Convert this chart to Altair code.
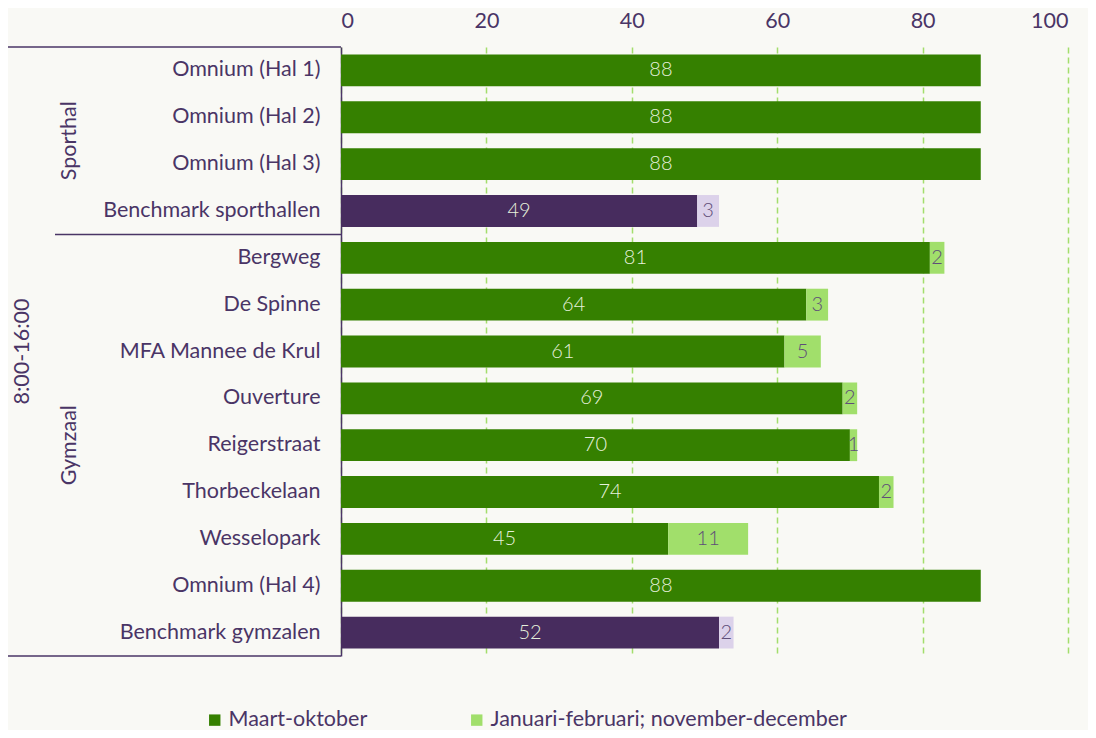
import altair as alt
import pandas as pd

names = ["Omnium (Hal 1)", "Omnium (Hal 2)", "Omnium (Hal 3)", "Benchmark sporthallen",
         "Bergweg", "De Spinne", "MFA Mannee de Krul", "Ouverture", "Reigerstraat",
         "Thorbeckelaan", "Wesselopark", "Omnium (Hal 4)", "Benchmark gymzalen"]
groups = ["Sporthal"] * 4 + ["Gymzaal"] * 9
is_benchmark = [False, False, False, True, False, False, False, False, False, False, False, False, True]
maart_oktober = [88, 88, 88, 49, 81, 64, 61, 69, 70, 74, 45, 88, 52]
winter = [None, None, None, 3, 2, 3, 5, 2, 1, 2, 11, None, 2]

S1 = "Maart-oktober"
S2 = "Januari-februari; november-december"
B1 = "Benchmark maart-oktober"
B2 = "Benchmark januari-februari; november-december"

rows = []
for n, g, b, v1, v2 in zip(names, groups, is_benchmark, maart_oktober, winter):
    rows.append({"name": n, "group": g, "value": v1, "order": 0, "key": B1 if b else S1})
    if v2 is not None:
        rows.append({"name": n, "group": g, "value": v2, "order": 1, "key": B2 if b else S2})
df = pd.DataFrame(rows)

TXT = "#4a3566"
FONT = "Lato"
FS = 21.5
W, H = 727, 609

yenc = alt.Y("name:N", sort=names, title=None,
             scale=alt.Scale(paddingInner=0.32, paddingOuter=0.16),
             axis=alt.Axis(labelFontSize=FS, labelColor=TXT, labelFont=FONT, ticks=False,
                           labelPadding=21, domainColor=TXT, domainWidth=1.5, labelLimit=400))

base = alt.Chart(df).transform_stack(
    stack="value", groupby=["name"], as_=["x0", "x1"], sort=[alt.SortField("order")]
).transform_calculate(mid="(datum.x0 + datum.x1) / 2")

bars = base.mark_bar().encode(
    y=yenc,
    x=alt.X("x0:Q", title=None,
            scale=alt.Scale(domain=[0, 100], nice=False),
            axis=alt.Axis(orient="top", values=[0, 20, 40, 60, 80, 100], grid=True,
                          gridColor="#a3de6c", gridDash=[6, 4], gridWidth=1.5,
                          domain=False, ticks=False, labelFontSize=FS, labelColor=TXT,
                          labelFont=FONT, labelPadding=15)),
    x2="x1:Q",
    color=alt.Color("key:N",
                    scale=alt.Scale(domain=[S1, S2, B1, B2],
                                    range=["#358000", "#a1df6b", "#472c5e", "#dcd2ea"]),
                    legend=alt.Legend(values=[S1, S2], title=None, orient="none",
                                      direction="horizontal", legendX=-137, legendY=662,
                                      symbolType="square", symbolSize=130, symbolStrokeWidth=0,
                                      labelFontSize=FS, labelColor=TXT, labelFont=FONT,
                                      labelOffset=3, columnPadding=98, labelLimit=600)),
)

labels = base.mark_text(fontSize=20, font=FONT, fontWeight=300).encode(
    y=alt.Y("name:N", sort=names),
    x=alt.X("mid:Q"),
    text=alt.Text("value:Q"),
    color=alt.condition(alt.datum.order == 0, alt.value("#e6f1dc"), alt.value("#5e4d78")),
)

# separators and group labels on the left
sep_df = pd.DataFrame({"name": ["Bergweg"]})
sep = alt.Chart(sep_df).mark_rule(color=TXT, strokeWidth=1.5, yOffset=-7.5).encode(
    y=alt.Y("name:N", sort=names, bandPosition=0),
    x=alt.value(-286), x2=alt.value(0))
top_line = alt.Chart(sep_df).mark_rule(color=TXT, strokeWidth=1.5).encode(
    y=alt.value(0), x=alt.value(-333), x2=alt.value(0))
bottom_line = alt.Chart(sep_df).mark_rule(color=TXT, strokeWidth=1.5).encode(
    y=alt.value(H), x=alt.value(-333), x2=alt.value(0))

sport_df = pd.DataFrame({"name": ["Omnium (Hal 3)"], "label": ["Sporthal"]})
sport_lbl = alt.Chart(sport_df).mark_text(angle=270, fontSize=FS, font=FONT, color=TXT,
                                           yOffset=-7.5).encode(
    y=alt.Y("name:N", sort=names, bandPosition=0), x=alt.value(-271), text="label:N")
gym_df = pd.DataFrame({"name": ["Reigerstraat"], "label": ["Gymzaal"]})
gym_lbl = alt.Chart(gym_df).mark_text(angle=270, fontSize=FS, font=FONT, color=TXT).encode(
    y=alt.Y("name:N", sort=names), x=alt.value(-271), text="label:N")
time_df = pd.DataFrame({"label": ["8:00-16:00"]})
time_lbl = alt.Chart(time_df).mark_text(angle=270, fontSize=FS, font=FONT, color=TXT).encode(
    y=alt.value(H / 2), x=alt.value(-318), text="label:N")

chart = alt.layer(bars, labels, sep, top_line, bottom_line, sport_lbl, gym_lbl, time_lbl).properties(
    width=W, height=H, background="#f9f9f5",
    padding={"left": 333, "top": 39, "right": 20, "bottom": 74},
    autosize=alt.AutoSizeParams(type="none")
).configure_view(stroke=None)

chart.save("out.html", embed_options={"renderer": "svg", "actions": False})
